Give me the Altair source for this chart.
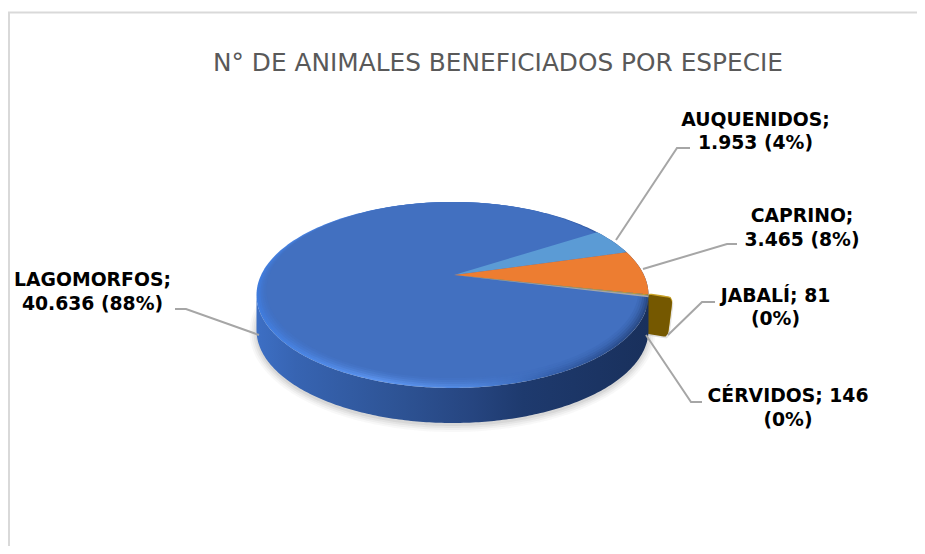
import numpy as np
import pandas as pd
import altair as alt

# ---- chart values
CATEGORIES = ["AUQUENIDOS", "CAPRINO", "JABALÍ", "CÉRVIDOS", "LAGOMORFOS"]
VALUES = [1953, 3465, 81, 146, 40636]
SLICE_COLORS = ["#5B9BD5", "#ED7D31", "#C9A227", "#A5A5A5", "#4472C4"]
TITLE = "N° DE ANIMALES BENEFICIADOS POR ESPECIE"
LABEL_LINE_1 = ["AUQUENIDOS;", "CAPRINO;", "JABALÍ; 81", "CÉRVIDOS; 146", "LAGOMORFOS;"]
LABEL_LINE_2 = ["1.953 (4%)", "3.465 (8%)", "(0%)", "(0%)", "40.636 (88%)"]

# ---- layout (page coordinates)
W, H = 909, 538
OX, OY = 8, 8
CX, CY, RX, RY = 452.5, 295.0, 196.0, 93.0
APEX = (454.0, 275.0)
DEPTH = 35.0
START_DEG = 42.5
LABEL_X = [755.5, 802, 775.5, 788, 92.5]
LABEL_Y1 = [125.5, 222, 301.5, 402, 286]
LINE_GAP = 23.5
LEADER_X = [[616, 677, 690], [643, 727, 737], [668, 702, 715], [646, 691, 702], [259, 186, 175]]
LEADER_Y = [[240, 148, 148], [269, 244, 244], [335, 302, 302], [335, 402, 402], [335, 309, 309]]
BOX_X = [647, 673, 668, 645]
BOX_Y = [293, 297, 336, 332]

xs = alt.Scale(domain=[OX, OX + W], range=[0, W], nice=False, zero=False)
ys = alt.Scale(domain=[OY, OY + H], range=[0, H], nice=False, zero=False)
X = lambda f: alt.X(f, type="quantitative", scale=xs, axis=None)
Y = lambda f: alt.Y(f, type="quantitative", scale=ys, axis=None)


def envelope(px, py):
    """Turn a convex closed outline into x / upper / lower columns for an area mark."""
    px = np.asarray(px, float)
    py = np.asarray(py, float)
    qx, qy = np.roll(px, -1), np.roll(py, -1)
    grid = np.unique(np.round(px, 3))
    top, bot = [], []
    for g in grid:
        found = []
        for a, b, c, d in zip(px, py, qx, qy):
            lo, hi = min(a, c), max(a, c)
            if lo - 1e-3 <= g <= hi + 1e-3:
                if abs(c - a) < 1e-6:
                    found += [b, d]
                else:
                    found.append(b + (d - b) * (g - a) / (c - a))
        top.append(min(found))
        bot.append(max(found))
    return pd.DataFrame({"x": grid, "y": top, "y2": bot})


def area(df, **mark):
    return alt.Chart(df).mark_area(orient="vertical", **mark).encode(x=X("x"), y=Y("y"), y2="y2")


def ellipse(cx, cy, rx, ry, n=240):
    t = np.linspace(0, 2 * np.pi, n, endpoint=False)
    return envelope(cx + rx * np.cos(t), cy + ry * np.sin(t))


def chaikin(px, py, k=2):
    px, py = np.asarray(px, float), np.asarray(py, float)
    for _ in range(k):
        qx, qy = np.roll(px, -1), np.roll(py, -1)
        px, py = (np.c_[0.9 * px + 0.1 * qx, 0.1 * px + 0.9 * qx].ravel(),
                  np.c_[0.9 * py + 0.1 * qy, 0.1 * py + 0.9 * qy].ravel())
    return px, py


def hgrad(*stops):
    return alt.LinearGradient(
        gradient="linear", x1=0, x2=1, y1=0, y2=0,
        stops=[alt.GradientStop(offset=o, color=c) for o, c in stops],
    )


layers = []

# frame
frame_h = pd.DataFrame({"x": [OX], "x2": [OX + W], "y": [12.5]})
frame_v = pd.DataFrame({"x": [9.0], "y": [12.5], "y2": [OY + H]})
layers.append(alt.Chart(frame_h).mark_rule(color="#d9d9d9", strokeWidth=2).encode(x=X("x"), x2="x2", y=Y("y")))
layers.append(alt.Chart(frame_v).mark_rule(color="#d9d9d9", strokeWidth=2).encode(x=X("x"), y=Y("y"), y2="y2"))

# soft shadow under the disc
for grow, op in [(7, 0.05), (5, 0.07), (3, 0.09), (1, 0.12)]:
    layers.append(area(ellipse(CX, CY + DEPTH + 2, RX + grow, RY + grow), color="#7f7f7f", opacity=op))

# shadow and body of the JABALÍ slice's side
sx, sy = chaikin(BOX_X, BOX_Y)
layers.append(area(envelope(sx + 1, sy + 3), color="#8c8c8c", opacity=0.25))
layers.append(area(envelope(sx, sy), color="#C9A227"))
layers.append(area(envelope(sx - 0.3, sy + 1.3), color="#755800"))

# side wall
tw = np.linspace(np.pi, 0, 200)
wall = pd.DataFrame({
    "x": CX + RX * np.cos(tw),
    "y": CY + RY * np.sin(tw),
    "y2": CY + DEPTH + RY * np.sin(tw),
})
layers.append(area(wall, color=hgrad((0, "#3D6FC4"), (0.1, "#3764B2"), (0.35, "#2E5496"),
                                     (0.55, "#264580"), (0.68, "#1E3A6E"), (1, "#19305C"))))

# bevelled rim, then the flat top face
layers.append(area(ellipse(CX, CY, RX, RY),
                   color=hgrad((0, "#3F7BDC"), (0.3, "#5C94EE"), (0.55, "#4F86DE"),
                               (0.75, "#3561AE"), (0.93, "#2B4F90"), (1, "#2A4A85"))))
for inset, op in [(2, 0.25), (4, 0.35), (6, 0.45), (8, 0.55), (10, 1.0)]:
    layers.append(area(ellipse(CX, CY - inset / 2, RX - inset, RY - inset / 2), color="#4270C0", opacity=op))

# top-face slices, from the values
total = sum(VALUES)
cum = 0.0
for cat, val, col in zip(CATEGORIES, VALUES, SLICE_COLORS):
    a0 = START_DEG - 360 * cum / total
    a1 = START_DEG - 360 * (cum + val) / total
    cum += val
    if cat == "LAGOMORFOS":
        continue
    t = np.radians(np.linspace(a0, a1, 40))
    px = np.r_[APEX[0], CX + RX * np.cos(t)]
    py = np.r_[APEX[1], CY - RY * np.sin(t)]
    layers.append(area(envelope(px, py), color=col))

# leader lines
lead = pd.DataFrame([
    {"cat": c, "i": i, "x": x, "y": y}
    for c, lx, ly in zip(CATEGORIES, LEADER_X, LEADER_Y)
    for i, (x, y) in enumerate(zip(lx, ly))
])
layers.append(alt.Chart(lead).mark_line(color="#a6a6a6", strokeWidth=2).encode(
    x=X("x"), y=Y("y"), detail="cat:N", order="i:Q"))

# data labels
lab = pd.DataFrame(
    [{"t": a, "x": x, "y": y} for a, x, y in zip(LABEL_LINE_1, LABEL_X, LABEL_Y1)]
    + [{"t": b, "x": x, "y": y + LINE_GAP} for b, x, y in zip(LABEL_LINE_2, LABEL_X, LABEL_Y1)]
)
layers.append(alt.Chart(lab).mark_text(
    font="DejaVu Sans", fontSize=18.8, fontWeight="bold", color="#000000",
    align="center", baseline="alphabetic").encode(x=X("x"), y=Y("y"), text="t:N"))

# title
ttl = pd.DataFrame({"t": [TITLE], "x": [498], "y": [71]})
layers.append(alt.Chart(ttl).mark_text(
    font="DejaVu Sans", fontSize=24.8, color="#595959",
    align="center", baseline="alphabetic").encode(x=X("x"), y=Y("y"), text="t:N"))

chart = alt.layer(*layers).properties(
    width=W, height=H, padding=0, autosize=alt.AutoSizeParams(type="none"), background="white"
).configure_view(stroke=None)

chart.save("out.html", embed_options={"renderer": "svg", "actions": False})
